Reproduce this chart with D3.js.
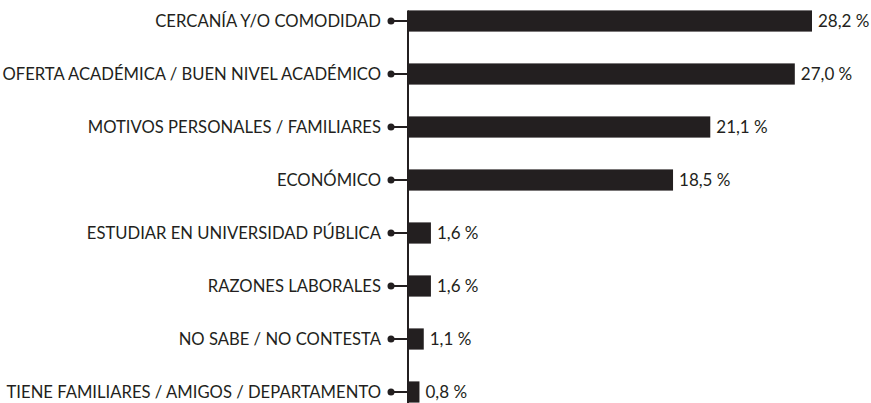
<!DOCTYPE html>
<html lang="es">
<head>
<meta charset="utf-8">
<script src="https://d3js.org/d3.v7.min.js"></script>
<style>
body { margin: 0; background: #fff; }
text { font-family: Lato, "Noto Sans", sans-serif; fill: #231f20; }
.lbl { font-size: 18px; }
.val { font-size: 17px; }
</style>
</head>
<body>
<svg width="871" height="403"></svg>
<script>
// motivos de elección
var categories = [
  "CERCANÍA Y/O COMODIDAD",
  "OFERTA ACADÉMICA / BUEN NIVEL ACADÉMICO",
  "MOTIVOS PERSONALES / FAMILIARES",
  "ECONÓMICO",
  "ESTUDIAR EN UNIVERSIDAD PÚBLICA",
  "RAZONES LABORALES",
  "NO SABE / NO CONTESTA",
  "TIENE FAMILIARES / AMIGOS / DEPARTAMENTO"
];
var values = [28.2, 27.0, 21.1, 18.5, 1.6, 1.6, 1.1, 0.8];
var valueLabels = ["28,2 %", "27,0 %", "21,1 %", "18,5 %", "1,6 %", "1,6 %", "1,1 %", "0,8 %"];

var svg = d3.select("svg");
var x0 = 408;

var x = d3.scaleLinear().domain([0, 28.2]).range([x0, 812]);
var y = d3.scaleBand().domain(categories).range([-5.5, 418.5]).paddingInner(0.6).paddingOuter(0.3);

// eje vertical
svg.append("line")
  .attr("x1", x0).attr("x2", x0)
  .attr("y1", y(categories[0])).attr("y2", 403)
  .attr("stroke", "#231f20").attr("stroke-width", 2);

var row = svg.selectAll(".row")
  .data(categories)
  .enter().append("g")
    .attr("class", "row")
    .attr("transform", function(d) { return "translate(0," + (y(d) + y.bandwidth() / 2) + ")"; });

row.append("line")
  .attr("x1", 391).attr("x2", x0)
  .attr("stroke", "#231f20").attr("stroke-width", 2);

row.append("circle")
  .attr("cx", 391).attr("r", 3.5)
  .attr("fill", "#231f20");

row.append("rect")
  .attr("x", x0)
  .attr("y", -y.bandwidth() / 2)
  .attr("height", y.bandwidth())
  .attr("width", function(d, i) { return x(values[i]) - x0; })
  .attr("fill", "#231f20");

// etiquetas algo condensadas
row.append("text")
  .attr("class", "lbl")
  .attr("transform", "translate(381,0) scale(0.925,1)")
  .attr("dy", "0.35em")
  .attr("text-anchor", "end")
  .text(function(d) { return d; });

row.append("text")
  .attr("class", "val")
  .attr("x", function(d, i) { return x(values[i]) + 6; })
  .attr("dy", "0.35em")
  .text(function(d, i) { return valueLabels[i]; });
</script>
</body>
</html>
